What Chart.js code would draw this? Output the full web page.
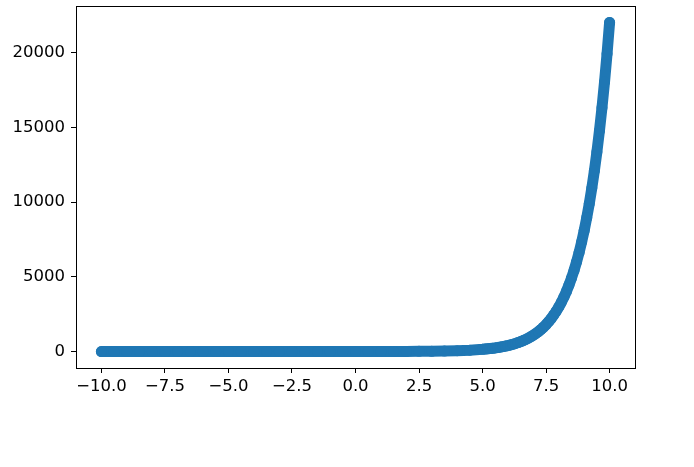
<!DOCTYPE html>
<html>
<head>
<meta charset="utf-8">
<script src="https://cdn.jsdelivr.net/npm/chart.js@4"></script>
<style>
  html, body { margin: 0; padding: 0; background: #fff; }
  #wrap { width: 694px; height: 467px; }
</style>
</head>
<body>
<div id="wrap"><canvas id="expChart" width="694" height="467"></canvas></div>
<script>
// values (flat part sparse, steep part every 0.1)
const xValues = [
  -10, -9.5, -9, -8.5, -8, -7.5, -7, -6.5, -6, -5.5, -5, -4.5, -4, -3.5, -3, -2.5, -2, -1.5, -1, -0.5,
  0, 0.5, 1, 1.5, 2, 2.5, 3, 3.5, 4, 4.5,
  5, 5.1, 5.2, 5.3, 5.4, 5.5, 5.6, 5.7, 5.8, 5.9,
  6, 6.1, 6.2, 6.3, 6.4, 6.5, 6.6, 6.7, 6.8, 6.9,
  7, 7.1, 7.2, 7.3, 7.4, 7.5, 7.6, 7.7, 7.8, 7.9,
  8, 8.1, 8.2, 8.3, 8.4, 8.5, 8.6, 8.7, 8.8, 8.9,
  9, 9.1, 9.2, 9.3, 9.4, 9.5, 9.6, 9.7, 9.8, 9.9, 10
];
const yValues = [
  0, 0, 0, 0, 0, 0, 0, 0, 0, 0, 0, 0, 0, 0, 0, 0, 0, 0, 0.4, 0.6,
  1, 2, 3, 4, 7, 12, 20, 33, 55, 90,
  148, 164, 181, 200, 221, 245, 270, 299, 330, 365,
  403, 446, 493, 545, 602, 665, 735, 812, 898, 992,
  1097, 1212, 1339, 1480, 1636, 1808, 1998, 2208, 2441, 2697,
  2981, 3295, 3641, 4024, 4447, 4915, 5432, 6003, 6634, 7332,
  8103, 8955, 9897, 10938, 12088, 13360, 14765, 16318, 18034, 19930, 22026
];
const xTicks = [-10, -7.5, -5, -2.5, 0, 2.5, 5, 7.5, 10];
const yTicks = [0, 5000, 10000, 15000, 20000];

Chart.defaults.font.family = "'DejaVu Sans', sans-serif";
Chart.defaults.font.size = 16.5;
Chart.defaults.color = "#000";

const blue = "#1f77b4";
const fmt = v => String(v).replace("-", "\u2212");

// box around the plot area, like the matplotlib spines
const frame = {
  id: "frame",
  afterDraw(chart) {
    const a = chart.chartArea, ctx = chart.ctx;
    ctx.save();
    ctx.strokeStyle = "#000";
    ctx.lineWidth = 1;
    ctx.strokeRect(Math.round(a.left) + 0.5, Math.round(a.top) + 0.5,
                   Math.round(a.right - a.left), Math.round(a.bottom - a.top));
    ctx.restore();
  }
};

new Chart(document.getElementById("expChart").getContext("2d"), {
  type: "scatter",
  data: {
    datasets: [{
      data: xValues.map((x, i) => ({ x: x, y: yValues[i] })),
      showLine: true,
      borderColor: blue,
      backgroundColor: blue,
      borderWidth: 11,
      borderCapStyle: "round",
      borderJoinStyle: "round",
      pointRadius: 5.5,
      pointBorderWidth: 0,
      pointHoverRadius: 5.5
    }]
  },
  options: {
    responsive: false,
    animation: false,
    layout: { padding: { left: 0, top: 6, right: 59, bottom: 0 } },
    plugins: { legend: { display: false }, tooltip: { enabled: false } },
    scales: {
      x: {
        min: -11, max: 11,
        afterBuildTicks: s => { s.ticks = xTicks.map(v => ({ value: v })); },
        afterFit: s => { s.height = 99; s.paddingLeft = 0; s.paddingRight = 0; },
        grid: { drawOnChartArea: false, drawTicks: true, tickLength: 5, color: "#000" },
        border: { display: false },
        ticks: { padding: 4, maxRotation: 0, callback: v => fmt(v.toFixed(1)) }
      },
      y: {
        min: -1101, max: 23127,
        afterBuildTicks: s => { s.ticks = yTicks.map(v => ({ value: v })); },
        afterFit: s => { s.width = 76; s.paddingTop = 0; s.paddingBottom = 0; },
        grid: { drawOnChartArea: false, drawTicks: true, tickLength: 5, color: "#000" },
        border: { display: false },
        ticks: { padding: 6, callback: v => fmt(v) }
      }
    }
  },
  plugins: [frame]
});
</script>
</body>
</html>
